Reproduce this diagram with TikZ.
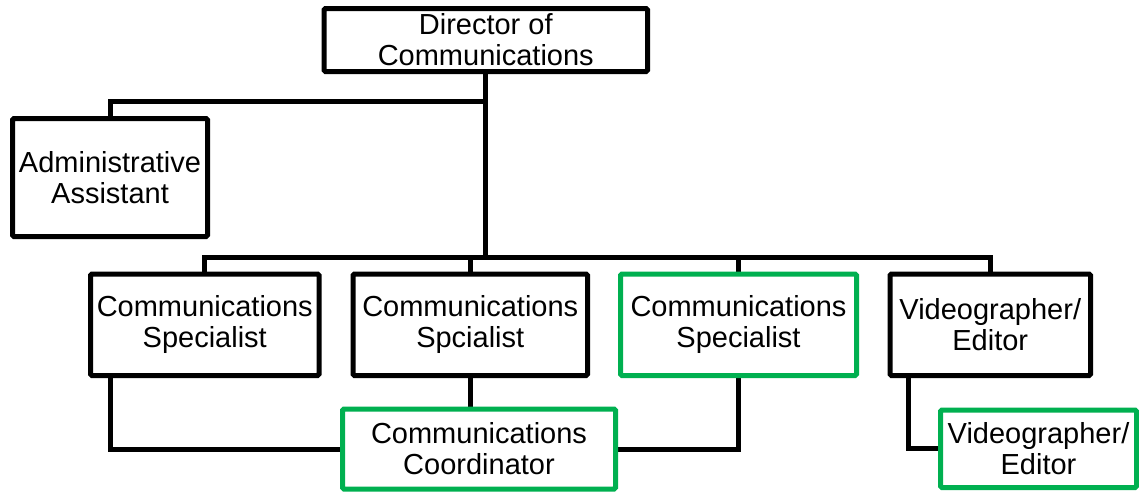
\documentclass[tikz,border=0pt]{standalone}
\usepackage{fontspec}
\setmainfont{Liberation Sans}
\usetikzlibrary{backgrounds}
\definecolor{officegreen}{RGB}{0,176,80}
\begin{document}
\begin{tikzpicture}[x=1pt,y=-1pt,
  role/.style={draw=black, line width=5pt, fill=white, rounded corners=1.5pt,
    inner sep=0pt, align=center, font=\fontsize{29}{31}\selectfont},
  newrole/.style={role, draw=officegreen},
  link/.style={line width=5pt, draw=black}]
\useasboundingbox (0,0) rectangle (1139,493);

% positions
\node[role, minimum width=323.5, minimum height=63] (dir) at (485.75,40) {Director of\\Communications};
\node[role, minimum width=195, minimum height=118] (admin) at (110,177.5) {Administrative\\Assistant};
\node[role, minimum width=228.5, minimum height=101.5] (b1) at (204.75,324.75) {Communications\\Specialist};
\node[role, minimum width=234.5, minimum height=101.5] (b2) at (470.25,324.75) {Communications\\Spcialist};
\node[newrole, minimum width=236, minimum height=101.5] (b3) at (738.5,324.75) {Communications\\Specialist};
\node[role, minimum width=200.5, minimum height=101.5] (b4) at (990.25,324.75) {Videographer/\\Editor};
\node[newrole, minimum width=273, minimum height=80] (coord) at (479,449) {Communications\\Coordinator};
\node[newrole, minimum width=196, minimum height=77.5] (vid) at (1038.5,448.75) {Videographer/\\Editor};

% reporting lines
\coordinate (hub1) at (485.75,101);
\coordinate (hub2) at (485.75,257);
\begin{pgfonlayer}{background}
  \draw[link] (dir.south) -- (hub2);
  \draw[link] (hub1) -| (admin.north);
  \draw[link] (b1.north) -- (b1.north |- hub2) -- (b4.north |- hub2) -- (b4.north);
  \draw[link] (b2.north |- hub2) -- (b2.north);
  \draw[link] (b3.north |- hub2) -- (b3.north);
  \draw[link] ([xshift=22.5pt]b1.south west) |- (coord.west);
  \draw[link] (b2.south) -- (b2.south |- coord.north);
  \draw[link] (b3.south) |- (coord.east);
  \draw[link] ([xshift=21pt]b4.south west) |- (vid.west);
\end{pgfonlayer}
\end{tikzpicture}
\end{document}
